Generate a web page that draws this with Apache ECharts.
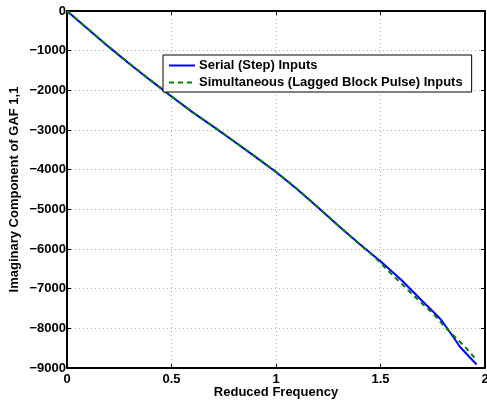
<!DOCTYPE html>
<html>
<head>
<meta charset="utf-8">
<script src="https://cdn.jsdelivr.net/npm/echarts@6/dist/echarts.min.js"></script>
<style>html,body{margin:0;padding:0;background:#fff;}#c{width:487px;height:402px;}</style>
</head>
<body>
<div id="c"></div>
<script>
const serialFreq = [0, 0.1, 0.2, 0.3, 0.4, 0.5, 0.6, 0.7, 0.8, 0.9, 1.0, 1.1, 1.2, 1.3, 1.4, 1.5, 1.6, 1.7, 1.75, 1.79, 1.82, 1.85, 1.88, 1.92, 1.96];
const serialVals = [0, -455, -905, -1335, -1750, -2155, -2550, -2915, -3290, -3670, -4060, -4485, -4950, -5420, -5875, -6311, -6780, -7310, -7570, -7785, -8005, -8230, -8465, -8690, -8912];
const simulFreq = [0, 0.1, 0.2, 0.3, 0.4, 0.5, 0.6, 0.7, 0.8, 0.9, 1.0, 1.1, 1.2, 1.3, 1.4, 1.45, 1.5, 1.55, 1.6, 1.65, 1.7, 1.75, 1.8, 1.85, 1.9, 1.955];
const simulVals = [0, -450, -900, -1330, -1745, -2150, -2545, -2910, -3285, -3665, -4055, -4480, -4945, -5420, -5880, -6100, -6350, -6620, -6870, -7130, -7380, -7620, -7920, -8185, -8440, -8770];
const xTicks = [0, 0.5, 1, 1.5, 2];
const yTicks = [-9000, -8000, -7000, -6000, -5000, -4000, -3000, -2000, -1000, 0];
const seriesNames = ['Serial (Step) Inputs', 'Simultaneous (Lagged Block Pulse) Inputs'];
const xName = 'Reduced Frequency';
const yName = 'Imaginary Component of GAF 1,1';

const FONT = 'Liberation Sans';
const txt = {fontFamily: FONT, fontWeight: 'bold', fontSize: 13, color: '#000'};
const fmtX = v => xTicks.indexOf(v) >= 0 ? String(v) : '';
const fmtY = v => yTicks.indexOf(v) >= 0 ? String(v).replace('-', '\u2212') : '';

const chart = echarts.init(document.getElementById('c'), null, {renderer: 'canvas'});
const axisCommon = {
  axisLine: {show: true, onZero: false, lineStyle: {color: '#000', width: 2}},
  axisTick: {show: true, inside: true, length: 4, lineStyle: {color: '#000', width: 1}},
  splitLine: {show: false}
};
chart.setOption({
  animation: false,
  backgroundColor: '#fff',
  grid: {left: 67, right: 2, top: 11, bottom: 34, containLabel: false, outerBoundsMode: 'none'},
  legend: {
    orient: 'vertical', left: 163, top: 55,
    backgroundColor: '#fff', borderColor: '#000', borderWidth: 1,
    padding: [4, 9, 3, 5], itemGap: 4, itemWidth: 26, itemHeight: 14,
    itemStyle: {opacity: 0},
    textStyle: Object.assign({}, txt, {padding: [0, 0, 0, -1]}),
    data: seriesNames
  },
  xAxis: [
    Object.assign({}, axisCommon, {
      type: 'value', min: 0, max: 2, interval: 0.5, position: 'bottom',
      name: xName, nameLocation: 'middle', nameGap: 18, nameMoveOverlap: false, nameTextStyle: txt,
      axisLabel: Object.assign({}, txt, {margin: 5, formatter: fmtX}),
      splitLine: {show: true, lineStyle: {color: '#b0b0b0', type: [1, 3], width: 1}}
    }),
    Object.assign({}, axisCommon, {
      type: 'value', min: 0, max: 2, interval: 0.5, position: 'top',
      axisLabel: {show: false}
    })
  ],
  yAxis: [
    Object.assign({}, axisCommon, {
      type: 'value', min: -9000, max: 0, interval: 1000, position: 'left',
      name: yName, nameLocation: 'middle', nameGap: 46, nameMoveOverlap: false, nameTextStyle: txt,
      axisLabel: Object.assign({}, txt, {margin: 1, formatter: fmtY}),
      splitLine: {show: true, lineStyle: {color: '#b0b0b0', type: [1, 3], width: 1}}
    }),
    Object.assign({}, axisCommon, {
      type: 'value', min: -9000, max: 0, interval: 1000, position: 'right',
      axisLabel: {show: false}
    })
  ],
  series: [
    {
      name: seriesNames[0], type: 'line', xAxisIndex: 0, yAxisIndex: 0,
      showSymbol: false, symbol: 'none',
      lineStyle: {color: '#0000ff', width: 2},
      itemStyle: {color: '#0000ff'},
      data: serialFreq.map((f, i) => [f, serialVals[i]])
    },
    {
      name: seriesNames[1], type: 'line', xAxisIndex: 0, yAxisIndex: 0,
      showSymbol: false, symbol: 'none',
      lineStyle: {color: '#008000', width: 2, type: [5, 4]},
      itemStyle: {color: '#008000'},
      data: simulFreq.map((f, i) => [f, simulVals[i]])
    }
  ]
});
</script>
</body>
</html>
